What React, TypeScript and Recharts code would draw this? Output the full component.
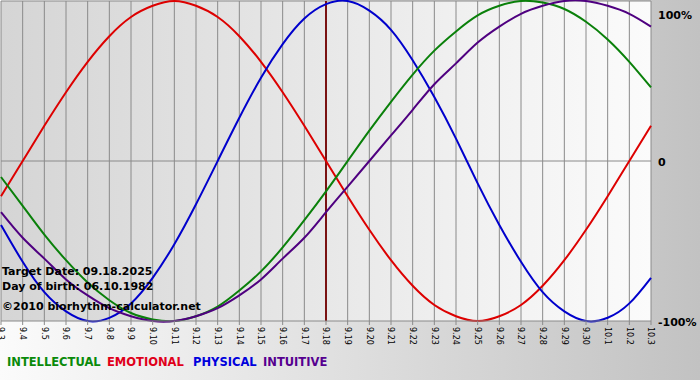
import React from "react";
import { LineChart, Line, XAxis, YAxis, CartesianGrid, ReferenceLine } from "recharts";

const dayLabels = [
  "9.3", "9.4", "9.5", "9.6", "9.7", "9.8", "9.9", "9.10", "9.11", "9.12", "9.13",
  "9.14", "9.15", "9.16", "9.17", "9.18", "9.19", "9.20", "9.21", "9.22", "9.23",
  "9.24", "9.25", "9.26", "9.27", "9.28", "9.29", "9.30", "10.1", "10.2", "10.3",
];

const intellectual = [
  -0.1, -0.28, -0.46, -0.62, -0.76, -0.87, -0.95, -0.99, -1.0, -0.97, -0.91,
  -0.81, -0.69, -0.54, -0.37, -0.19, 0.0, 0.19, 0.37, 0.54, 0.69,
  0.81, 0.91, 0.97, 1.0, 0.99, 0.95, 0.87, 0.76, 0.62, 0.46,
];
const emotional = [
  -0.22, 0.0, 0.22, 0.43, 0.62, 0.78, 0.9, 0.97, 1.0, 0.97, 0.9,
  0.78, 0.62, 0.43, 0.22, 0.0, -0.22, -0.43, -0.62, -0.78, -0.9,
  -0.97, -1.0, -0.97, -0.9, -0.78, -0.62, -0.43, -0.22, 0.0, 0.22,
];
const physical = [
  -0.4, -0.63, -0.82, -0.94, -1.0, -0.98, -0.89, -0.73, -0.52, -0.27, 0.0,
  0.27, 0.52, 0.73, 0.89, 0.98, 1.0, 0.94, 0.82, 0.63, 0.4,
  0.14, -0.14, -0.4, -0.63, -0.82, -0.94, -1.0, -0.98, -0.89, -0.73,
];
const intuitive = [
  -0.32, -0.48, -0.61, -0.74, -0.84, -0.92, -0.97, -1.0, -1.0, -0.97, -0.92,
  -0.84, -0.74, -0.61, -0.48, -0.32, -0.16, 0.0, 0.16, 0.32, 0.48,
  0.61, 0.74, 0.84, 0.92, 0.97, 1.0, 1.0, 0.97, 0.92, 0.84,
];

const yTicks = [-1, 0, 1];
const yTickLabels: Record<string, string> = { "-1": "-100%", "0": "0", "1": "100%" };
const markerDay = "9.18";

const legendItems = [
  { name: "INTELLECTUAL", color: "#0a8a0a", left: 7 },
  { name: "EMOTIONAL", color: "#e0001a", left: 107 },
  { name: "PHYSICAL", color: "#0000dd", left: 193 },
  { name: "INTUITIVE", color: "#560090", left: 263 },
];

const infoLines = [
  { text: "Target Date: 09.18.2025", top: 264, size: 11 },
  { text: "Day of birth: 06.10.1982", top: 279, size: 11 },
  { text: "\u00a92010 biorhythm-calculator.net", top: 299, size: 11 },
];

const data = dayLabels.map((label, i) => ({
  label,
  intellectual: intellectual[i],
  emotional: emotional[i],
  physical: physical[i],
  intuitive: intuitive[i],
}));

const FONT = '"DejaVu Sans", Verdana, sans-serif';

const XTick = (props: any) => {
  const { x, y, payload } = props;
  return (
    <g transform={`translate(${x},${y})`}>
      <text
        transform="rotate(90)"
        x={0}
        y={0}
        dy="0.35em"
        textAnchor="start"
        fontSize={8}
        fontFamily={FONT}
        fill="#000"
      >
        {payload.value}
      </text>
    </g>
  );
};

const YTick = (props: any) => {
  const { y, payload } = props;
  const v = payload.value;
  const yy = v === 1 ? y + 6 : y + 1;
  return (
    <text
      x={658}
      y={yy}
      dy="0.35em"
      textAnchor="start"
      fontSize={11}
      fontWeight="bold"
      fontFamily={FONT}
      fill="#000"
    >
      {yTickLabels[String(v)]}
    </text>
  );
};

export default function App() {
  return (
    <div
      style={{
        position: "absolute",
        left: 0,
        top: 0,
        width: 700,
        height: 380,
        overflow: "hidden",
        background: "linear-gradient(to right, #fbfbfb, #c2c2c2)",
        fontFamily: FONT,
      }}
    >
      <div
        style={{
          position: "absolute",
          left: 1,
          top: 1,
          width: 650,
          height: 320,
          background: "linear-gradient(to right, #d5d5d5, #fbfbfb)",
        }}
      />
      <div style={{ position: "absolute", left: 0, top: 0 }}>
        <LineChart
          width={700}
          height={380}
          data={data}
          margin={{ top: 1, right: 0, left: 1, bottom: 29 }}
        >
          <CartesianGrid vertical={true} horizontal={false} stroke="#8a8a8a" strokeWidth={1} />
          <XAxis
            dataKey="label"
            interval={0}
            height={30}
            tick={<XTick />}
            tickSize={4}
            tickMargin={2}
            tickLine={{ stroke: "#8a8a8a" }}
            axisLine={{ stroke: "#8a8a8a" }}
          />
          <YAxis
            orientation="right"
            width={49}
            domain={[-1, 1]}
            ticks={yTicks}
            axisLine={false}
            tickLine={false}
            tick={<YTick />}
          />
          <ReferenceLine y={0} stroke="#8a8a8a" strokeWidth={1} />
          <ReferenceLine y={1} stroke="#8a8a8a" strokeWidth={1} />
          <ReferenceLine x={markerDay} stroke="#7a1212" strokeWidth={2} />
          <Line type="natural" dataKey="emotional" stroke="#dd0000" strokeWidth={2} dot={false} isAnimationActive={false} />
          <Line type="natural" dataKey="physical" stroke="#0000cc" strokeWidth={2} dot={false} isAnimationActive={false} />
          <Line type="natural" dataKey="intellectual" stroke="#0a800a" strokeWidth={2} dot={false} isAnimationActive={false} />
          <Line type="natural" dataKey="intuitive" stroke="#4f0080" strokeWidth={2} dot={false} isAnimationActive={false} />
        </LineChart>
      </div>
      {infoLines.map((l) => (
        <div
          key={l.text}
          style={{
            position: "absolute",
            left: 2,
            top: l.top,
            fontSize: l.size,
            fontWeight: "bold",
            color: "#000",
            whiteSpace: "nowrap",
            lineHeight: "15px",
          }}
        >
          {l.text}
        </div>
      ))}
      {legendItems.map((it) => (
        <div
          key={it.name}
          style={{
            position: "absolute",
            left: it.left,
            top: 354,
            fontSize: 11.5,
            fontWeight: "bold",
            color: it.color,
            whiteSpace: "nowrap",
            lineHeight: "16px",
          }}
        >
          {it.name}
        </div>
      ))}
    </div>
  );
}
